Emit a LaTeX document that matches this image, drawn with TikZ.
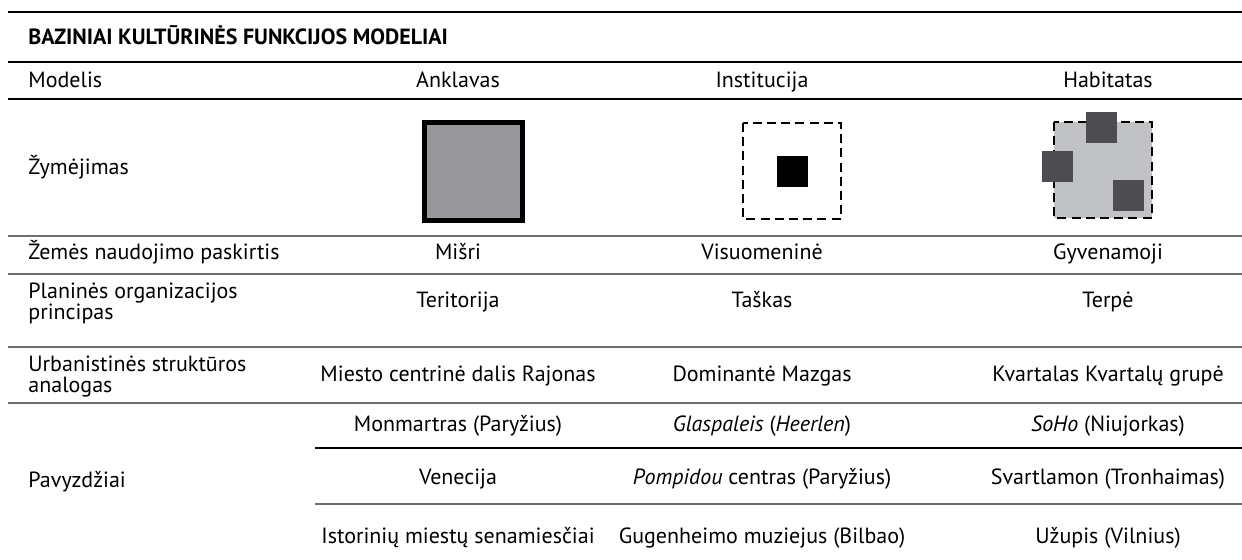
\documentclass[tikz,border=0pt]{standalone}
\usepackage{fontspec}
\setmainfont{PT Sans}
\usepackage{tikz}
\usepackage{xcolor}
\definecolor{enclavefill}{HTML}{98989C}
\definecolor{habitatfill}{HTML}{C0C2C4}
\definecolor{blockfill}{HTML}{4D4C51}
\definecolor{rulegray}{HTML}{6E6E70}
\begin{document}
\begin{tikzpicture}
    [x=0.5pt,y=-0.5pt,font=\fontsize{11}{10.5}\selectfont,
    every node/.style={inner sep=0pt},
    label/.style={anchor=mid west,align=left},
    cell/.style={anchor=mid},
    heavyrule/.style={line width=1.2pt},
    lightrule/.style={line width=0.55pt},
    grayrule/.style={line width=0.75pt,draw=rulegray},
    dashbox/.style={line width=1pt,dash pattern=on 4.5pt off 2.6pt}]
\useasboundingbox (0,0) rectangle (1242,560);
\draw [heavyrule] (8,12) -- (1242,12);
\draw [heavyrule] (8,62) -- (1242,62);
\draw [lightrule] (8,99) -- (1242,99);
\draw [grayrule] (8,236) -- (1242,236);
\draw [grayrule] (8,274) -- (1242,274);
\draw [grayrule] (8,347) -- (1242,347);
\draw [grayrule] (8,403) -- (1242,403);
\draw [lightrule] (315,448) -- (1242,448);
\draw [grayrule] (315,504) -- (1242,504);
\path
    [label]
    (28,40) node (title) {\bfseries BAZINIAI KULTŪRINĖS FUNKCIJOS MODELIAI}
    (28,83) node (model) {Modelis}
    (28,170) node (sign) {Žymėjimas}
    (28,255) node (land) {Žemės naudojimo paskirtis}
    (28,303) node [anchor=west] (plan) {Planinės organizacijos\\principas}
    (28,377) node [anchor=west] (urban) {Urbanistinės struktūros\\analogas}
    (28,483) node (examples) {Pavyzdžiai};
\path
    [cell]
    (458,83) node (enclave) {Anklavas}
    (762,83) node (institution) {Institucija}
    (1108,83) node (habitat) {Habitatas}
    (enclave |- land.mid) node (landA) {Mišri}
    (institution |- land.mid) node (landB) {Visuomeninė}
    (habitat |- land.mid) node (landC) {Gyvenamoji}
    (enclave |- plan) node (planA) {Teritorija}
    (institution |- plan) node (planB) {Taškas}
    (habitat |- plan) node (planC) {Terpė}
    (enclave |- urban) node (urbanA) {Miesto centrinė dalis Rajonas}
    (institution |- urban) node (urbanB) {Dominantė Mazgas}
    (habitat |- urban) node (urbanC) {Kvartalas Kvartalų grupė};
\path
    [cell]
    (458,427) node (exA1) {Monmartras (Paryžius)}
    (exA1 -| institution) node (exB1) {\textit{Glaspaleis} (\textit{Heerlen})}
    (exA1 -| habitat) node (exC1) {\textit{SoHo} (Niujorkas)}
    (458,480) node (exA2) {Venecija}
    (exA2 -| institution) node (exB2) {\textit{Pompidou} centras (Paryžius)}
    (exA2 -| habitat) node (exC2) {Svartlamon (Tronhaimas)}
    (458,539) node (exA3) {Istorinių miestų senamiesčiai}
    (exA3 -| institution) node (exB3) {Gugenheimo muziejus (Bilbao)}
    (exA3 -| habitat) node (exC3) {Užupis (Vilnius)};
\draw [line width=2.5pt,fill=enclavefill] (424.5,122.5) rectangle (522.5,220.5);
\draw [dashbox] (743,123) rectangle (841,219);
\fill (777,156) rectangle (808,187);
\draw [dashbox,fill=habitatfill] (1054,122) rectangle (1152,218);
\fill [blockfill] (1086,112) rectangle (1117,143);
\fill [blockfill] (1042,151) rectangle (1073,182);
\fill [blockfill] (1113,180) rectangle (1144,211);
\end{tikzpicture}
\end{document}
